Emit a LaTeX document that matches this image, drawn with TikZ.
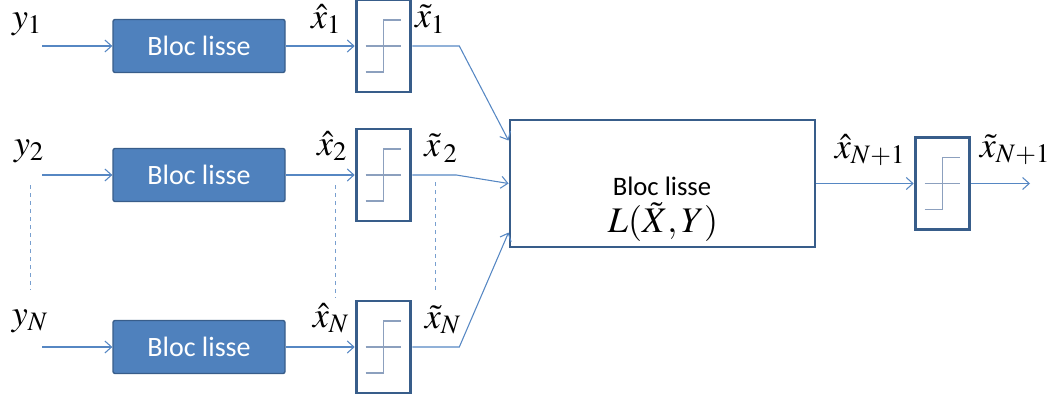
\documentclass[tikz,border=0pt]{standalone}
\usepackage{mathptmx}
\usepackage{fontspec}
\setmainfont{Liberation Serif}
\newfontfamily\calibri{Carlito}
\usepackage{tikz}
\usetikzlibrary{arrows.meta}
\definecolor{blocfill}{RGB}{79,129,189}
\definecolor{blocdraw}{RGB}{56,93,138}
\definecolor{filc}{RGB}{86,135,195}
\definecolor{marchec}{RGB}{140,160,190}
\tikzstyle{fil}=[draw=filc,line width=0.8pt,-{Straight Barb[length=5pt,width=9pt]}]
\tikzstyle{bloc}=[rectangle,fill=blocfill,draw=blocdraw,line width=1pt,
                rounded corners=1.5pt,minimum width=129pt,minimum height=39.75pt,
                inner sep=0pt,text=white,font=\calibri\fontsize{21}{24}\selectfont]
\tikzstyle{seuil}=[rectangle,draw=blocdraw,line width=2.2pt,minimum width=41pt,
                minimum height=69pt,inner sep=0pt]
\tikzstyle{grand}=[rectangle,draw=blocdraw,line width=2.2pt,minimum width=228.75pt,
                minimum height=95.25pt,inner sep=0pt]
\tikzstyle{marche}=[draw=marchec,line width=1.1pt]
\tikzstyle{pointille}=[draw=filc!80,dashed,line width=0.6pt]
\tikzstyle{var}=[inner sep=0pt,font=\fontsize{27}{32}\selectfont]
\tikzstyle{nom}=[inner sep=0pt,font=\calibri\fontsize{20}{24}\selectfont]
% symbole de seuil dans une boite
\newcommand{\marchesym}[1]{%
  \draw[marche] ([shift={(-18,0)}]#1.center) -- ([shift={(17,0)}]#1.center);
  \draw[marche] ([shift={(-18,26)}]#1.center) -- ([shift={(0,26)}]#1.center)
    -- ([shift={(0,-26)}]#1.center) -- ([shift={(17,-26)}]#1.center);}

\begin{document}
\begin{tikzpicture}[x=0.75pt,y=-0.75pt]
\useasboundingbox (0,0) rectangle (1055,399);
\foreach \i/\yy in {1/46,2/175,N/347} {
  \coordinate (in\i) at (42,\yy);
  \node[bloc] (b\i) at (199,\yy) {Bloc lisse};
  \node[seuil] (s\i) at (383.5,\yy) {};
  \marchesym{s\i}
  \draw[fil] (in\i) -- (b\i);
  \draw[fil] (b\i) -- (s\i);
}
\node[grand] (L) at (662.5,183.5) {};
\node[nom] (Lnom) at (662,186) {Bloc lisse};
\node[var] (Lfn) at (663,222) {$L(\tilde{X},Y)$};
\draw[fil] (s1.east) -- ++(47,0) -- ([shift={(0,-43)}]L.west);
\draw[fil] (s2.east) -- ++(44,0) -- (L.west);
\draw[fil] (sN.east) -- ++(47,0) -- ([shift={(0,49)}]L.west);
\node[seuil] (s4) at (942.5,183.5) {};
\marchesym{s4}
\coordinate (out) at (1030,183.5);
\draw[fil] (L) -- (s4);
\draw[fil] (s4) -- (out);
% etiquettes
\node[var] (ly1) at (27,24) {$y_1$};
\node[var] (ly2) at (29,151) {$y_2$};
\node[var] (lyN) at (30,321) {$y_N$};
\node[var] (xh1) at (326,19) {$\hat{x}_1$};
\node[var] (xt1) at (430,19) {$\tilde{x}_1$};
\node[var] (xh2) at (332,146) {$\hat{x}_2$};
\node[var] (xt2) at (441,148) {$\tilde{x}{}_{\,2}$};
\node[var] (xhN) at (331,318) {$\hat{x}_N$};
\node[var] (xtN) at (443,320) {$\tilde{x}_N$};
\node[var] (xh4) at (870,150) {$\hat{x}_{N+1}$};
\node[var] (xt4) at (1015,150) {$\tilde{x}_{N+1}$};
\draw[pointille] (30,185) -- (30,290);
\draw[pointille] (335,185) -- (335,298);
\draw[pointille] (435,182) -- (435,290);
\end{tikzpicture}
\end{document}
